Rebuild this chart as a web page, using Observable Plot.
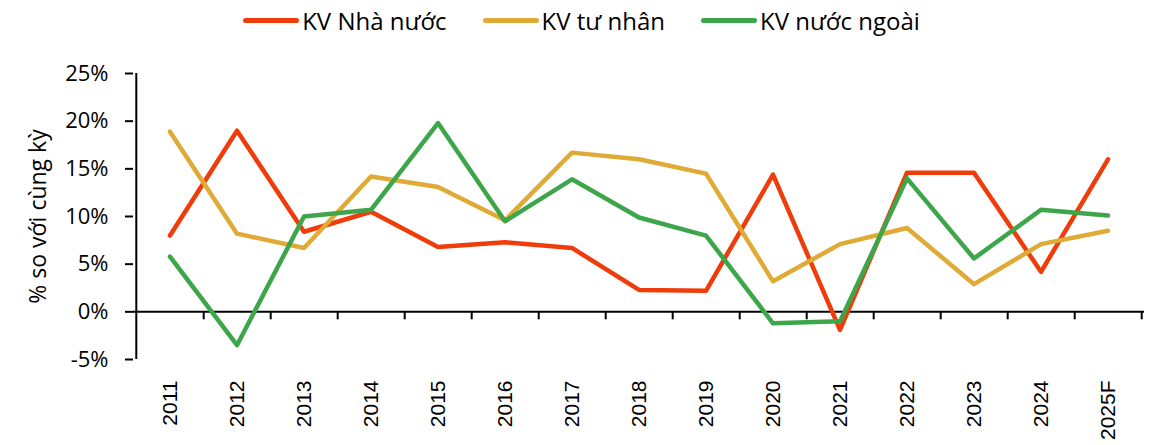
<!DOCTYPE html>
<html>
<head>
<meta charset="utf-8">
<script src="https://cdn.jsdelivr.net/npm/d3@7"></script>
<script src="https://cdn.jsdelivr.net/npm/@observablehq/plot@0.6"></script>
<style>
  html, body { margin: 0; padding: 0; background: #fff; overflow: hidden; }
  #legend { height: 40px; display: flex; justify-content: center; align-items: center; padding-left: 10px;
    font-family: "Open Sans", sans-serif; font-size: 24px; color: #000; box-sizing: border-box; }
  .item { display: flex; align-items: center; margin: 0 18px; }
  .sw { width: 56px; height: 5px; border-radius: 3px; margin-right: 3px; }
</style>
</head>
<body>
<div id="legend"></div>
<div id="chart"></div>
<script>
const years = ["2011","2012","2013","2014","2015","2016","2017","2018","2019","2020","2021","2022","2023","2024","2025F"];
const seriesNames = ["KV Nhà nước", "KV tư nhân", "KV nước ngoài"];
const seriesColors = ["#F03C0A", "#DFAA35", "#3EA64A"];
const stateSector = [8.0, 19.0, 8.4, 10.5, 6.8, 7.3, 6.7, 2.3, 2.2, 14.4, -1.9, 14.6, 14.6, 4.2, 16.0];
const privateSector = [18.9, 8.2, 6.7, 14.2, 13.1, 9.6, 16.7, 16.0, 14.5, 3.2, 7.1, 8.8, 2.9, 7.1, 8.5];
const foreignSector = [5.8, -3.5, 10.0, 10.7, 19.8, 9.5, 13.9, 9.9, 8.0, -1.2, -1.0, 14.0, 5.6, 10.7, 10.1];
const yTicks = [-5, 0, 5, 10, 15, 20, 25];
const yLabel = "% so với cùng kỳ";

const allSeries = [stateSector, privateSector, foreignSector];
const data = [];
allSeries.forEach((vals, s) => vals.forEach((v, i) => data.push({year: years[i], series: seriesNames[s], value: v})));

// legend
const lg = document.getElementById("legend");
seriesNames.forEach((n, i) => {
  const it = document.createElement("div");
  it.className = "item";
  it.innerHTML = `<div class="sw" style="background:${seriesColors[i]}"></div><span>${n}</span>`;
  lg.appendChild(it);
});

const W = 1153, H = 405;
const mL = 133, mR = 9, mT = 33, mB = 86;
const step = (W - mL - mR) / years.length;

const chart = Plot.plot({
  width: W, height: H,
  marginLeft: mL, marginRight: mR, marginTop: mT, marginBottom: mB,
  style: {fontFamily: "'Open Sans', sans-serif", background: "#fff", color: "#000"},
  x: {type: "band", domain: years, padding: 0, axis: null},
  y: {domain: [yTicks[0], yTicks[yTicks.length - 1]], axis: null},
  color: {domain: seriesNames, range: seriesColors},
  marks: [
    Plot.axisY({ticks: yTicks, tickSize: 8, tickPadding: 17, tickFormat: d => d + "%", fontSize: 22, label: null, stroke: "#000", strokeWidth: 2}),
    Plot.ruleX([years[0]], {x: d => d, dx: -step / 2, y1: yTicks[0], y2: yTicks[yTicks.length - 1], stroke: "#000", strokeWidth: 2}),
    Plot.ruleY([0], {stroke: "#000", strokeWidth: 2}),
    Plot.ruleX(years, {x: d => d, dx: step / 2, y1: 0, y2: 0, insetBottom: -8, stroke: "#000", strokeWidth: 2}),
    Plot.text(years, {x: d => d, frameAnchor: "bottom", rotate: -90, textAnchor: "end", lineAnchor: "middle", dy: 21, fontSize: 21, fontFamily: "'Liberation Sans', Arial, sans-serif", fill: "#000", text: d => d}),
    Plot.text([yLabel], {frameAnchor: "left", dx: -95, rotate: -90, textAnchor: "middle", lineAnchor: "middle", fontSize: 23, fill: "#000", text: d => d}),
    Plot.line(data, {x: "year", y: "value", z: "series", stroke: "series", strokeWidth: 4.5, strokeLinejoin: "round", strokeLinecap: "round"})
  ]
});
document.getElementById("chart").appendChild(chart);
</script>
</body>
</html>
